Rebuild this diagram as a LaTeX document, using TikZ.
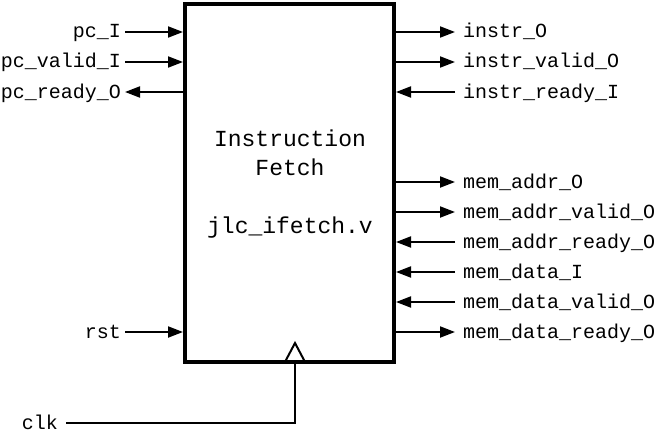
\documentclass[tikz,border=0pt]{standalone}
\usepackage{fontspec}
\setmonofont{Liberation Mono}
\usetikzlibrary{arrows.meta}
\begin{document}
\begin{tikzpicture}[x=1pt,y=-1pt,
  lbl/.style={font=\ttfamily\fontsize{20}{24}\selectfont, inner sep=0pt},
  ttl/.style={font=\ttfamily\fontsize{23}{28}\selectfont, inner sep=0pt, anchor=base},
  sig/.style={line width=2pt, -{Triangle[length=15pt,width=11pt]}},
  blk/.style={draw, line width=4pt, minimum width=209pt, minimum height=358pt, inner sep=0pt}]
\useasboundingbox (0,0) rectangle (656,436);
\node[blk] (box) at (289.5,183) {};
\node[ttl] (t1) at (290,146) {Instruction};
\node[ttl] (t2) at (290,175) {Fetch};
\node[ttl] (t3) at (290,233) {jlc\_ifetch.v};
% left side
\foreach \n/\t/\y in {pci/pc\_I/32, pcv/pc\_valid\_I/62, pcr/pc\_ready\_O/92, rst/rst/332}{
  \node[lbl, anchor=base east] (\n) at (121,\y+6) {\t};
  \coordinate (\n e) at (125,\y);
  \coordinate (\n b) at (box.west |- 0,\y);
}
\draw[sig] (pcie) -- (pcib);
\draw[sig] (pcve) -- (pcvb);
\draw[sig] (pcrb) -- (pcre);
\draw[sig] (rste) -- (rstb);
% right side
\foreach \n/\t/\y in {io/instr\_O/32, iv/instr\_valid\_O/62, ir/instr\_ready\_I/92,
  ma/mem\_addr\_O/182, mav/mem\_addr\_valid\_O/212, mar/mem\_addr\_ready\_O/242,
  md/mem\_data\_I/272, mdv/mem\_data\_valid\_O/302, mdr/mem\_data\_ready\_O/332}{
  \node[lbl, anchor=base west] (\n) at (463,\y+6) {\t};
  \coordinate (\n w) at (455,\y);
  \coordinate (\n b) at (box.east |- 0,\y);
}
\draw[sig] (iob) -- (iow);
\draw[sig] (ivb) -- (ivw);
\draw[sig] (irw) -- (irb);
\draw[sig] (mab) -- (maw);
\draw[sig] (mavb) -- (mavw);
\draw[sig] (marw) -- (marb);
\draw[sig] (mdw) -- (mdb);
\draw[sig] (mdvw) -- (mdvb);
\draw[sig] (mdrb) -- (mdrw);
% clock
\node[lbl, anchor=base east] (clk) at (58,429) {clk};
\coordinate (clke) at (66,423);
\coordinate (clkc) at (295,423);
\coordinate (clkt) at (295,360);
\draw[line width=2pt] (clke) -- (clkc) -- (clkt);
\draw[line width=2pt, fill=white, line join=miter] (285.5,361) -- (295,343) -- (304.5,361) -- cycle;
\end{tikzpicture}
\end{document}
